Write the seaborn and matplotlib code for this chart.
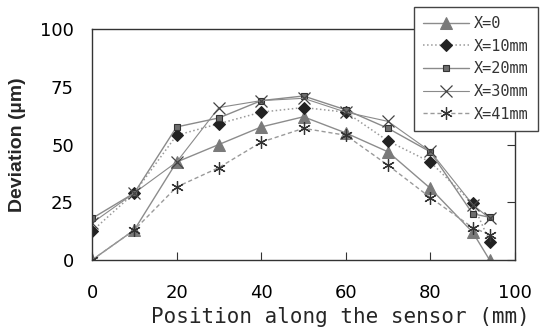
import matplotlib
matplotlib.use("Agg")
import matplotlib.pyplot as plt
import seaborn as sns
import pandas as pd

positions = [0, 10, 20, 30, 40, 50, 60, 70, 80, 90, 94]
x0 = [0, 13, 42.4, 50, 57.6, 62, 55, 46.8, 31, 12, 0]
x10 = [12.5, 29, 54, 59, 64, 66, 64, 51.5, 42.4, 24.5, 8]
x20 = [18, 29, 57.6, 61.5, 69, 71, 65, 57, 46.8, 20, 18.5]
x30 = [16, 29, 42.4, 66, 69, 70, 64, 60, 47, 24, 18]
x41 = [0, 13, 31.6, 40, 51, 57, 54, 41, 27, 14, 11]
labels = ["X=0", "X=10mm", "X=20mm", "X=30mm", "X=41mm"]
x_ticks = [0, 20, 40, 60, 80, 100]
y_ticks = [0, 25, 50, 75, 100]

series = [x0, x10, x20, x30, x41]
df = pd.concat(
    [pd.DataFrame({"pos": positions, "dev": s, "series": lab}) for s, lab in zip(series, labels)],
    ignore_index=True,
)

sns.set_theme(style="white")
plt.rcParams["font.family"] = ["DejaVu Sans"]

fig = plt.figure(figsize=(5.44, 3.31), dpi=100)
ax = fig.add_axes([92 / 544, 1 - 260 / 331, (515 - 92) / 544, (260 - 29) / 331])

styles = {
    "X=0": dict(color="#8c8c8c", linestyle="-", linewidth=1.0, marker="^", markersize=8,
                markerfacecolor="#7a7a7a", markeredgecolor="#7a7a7a"),
    "X=10mm": dict(color="#9a9a9a", linestyle=":", linewidth=1.1, marker="D", markersize=6,
                   markerfacecolor="#222222", markeredgecolor="#222222"),
    "X=20mm": dict(color="#8a8a8a", linestyle="-", linewidth=1.0, marker="s", markersize=4.5,
                   markerfacecolor="#6e6e6e", markeredgecolor="#333333", markeredgewidth=0.8),
    "X=30mm": dict(color="#8a8a8a", linestyle="-", linewidth=0.8, marker="x", markersize=9,
                   markeredgecolor="#444444", markeredgewidth=0.9),
    "X=41mm": dict(color="#9a9a9a", linestyle=(0, (3, 2)), linewidth=1.0, marker=(6, 2, 0), markersize=9,
                   markeredgecolor="#333333", markeredgewidth=0.9),
}

for lab in labels:
    sub = df[df["series"] == lab]
    sns.lineplot(data=sub, x="pos", y="dev", ax=ax, label=lab, **styles[lab])

ax.set_xlim(0, 100)
ax.set_ylim(0, 100)
ax.set_xticks(x_ticks)
ax.set_yticks(y_ticks)
ax.tick_params(axis="both", direction="in", length=6, width=0.8, color="#333333",
               labelsize=13, labelcolor="black")
ax.tick_params(axis="y", right=True, pad=13)
ax.tick_params(axis="x", bottom=True, pad=17)
for sp in ax.spines.values():
    sp.set_visible(True)
    sp.set_color("#333333")
    sp.set_linewidth(1.0)

ax.set_xlabel("")
fig.text(340 / 544, 1 - 317 / 331, "Position along the sensor (mm)", fontsize=15,
         family="DejaVu Sans Mono", ha="center", va="center")
ax.set_ylabel("Deviation (\u00b5m)", fontsize=14, fontweight="bold", family="Liberation Sans", labelpad=10)

if ax.legend_:
    ax.legend_.remove()
handles, lbls = ax.get_legend_handles_labels()
leg = fig.legend(handles, lbls, loc="upper left", bbox_to_anchor=(414 / 544, 1 - 7 / 331),
                 frameon=True, fancybox=False, framealpha=1, edgecolor="#444444",
                 prop={"family": "DejaVu Sans Mono", "size": 11}, handlelength=3.0,
                 labelspacing=0.5, borderpad=0.6, handletextpad=0.35, borderaxespad=0)
leg.get_frame().set_linewidth(1.0)
for t in leg.get_texts():
    t.set_color("#333333")

fig.savefig("out.png", dpi=100)
